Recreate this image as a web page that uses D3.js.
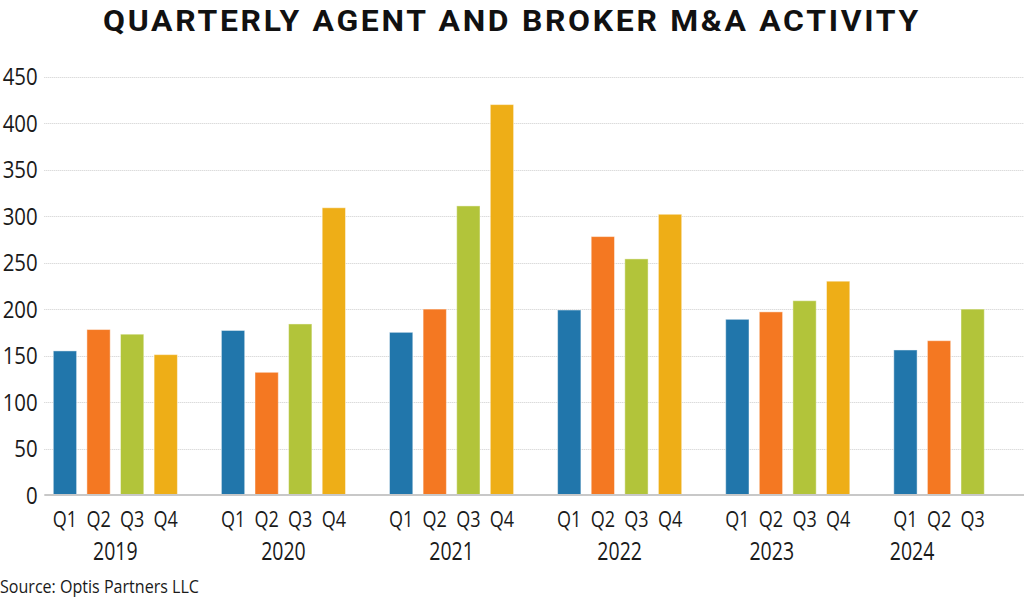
<!DOCTYPE html>
<html>
<head>
<meta charset="utf-8">
<script src="https://cdn.jsdelivr.net/npm/d3@7"></script>
<style>
  html, body { margin: 0; padding: 0; background: #fff; }
  svg { display: block; }
</style>
</head>
<body>
<div id="chart"></div>
<script>
'use strict';
// data
var years = ["2019", "2020", "2021", "2022", "2023", "2024"];
var quarters = ["Q1", "Q2", "Q3", "Q4"];
var deals = [
  [155, 178, 173, 151],
  [177, 132, 184, 309],
  [175, 200, 311, 420],
  [199, 278, 254, 302],
  [189, 197, 209, 230],
  [156, 166, 200]
];
var yTicks = [0, 50, 100, 150, 200, 250, 300, 350, 400, 450];
var colors = ["#2176ab", "#f47822", "#b2c43a", "#eeae17"];
var title = "QUARTERLY AGENT AND BROKER M&A ACTIVITY";
var source = "Source: Optis Partners LLC";

var width = 1024, height = 614;
// the original uses a condensed face, so Open Sans is squeezed sideways
var labelFont = "'Open Sans', 'Noto Sans', sans-serif";

var svg = d3.select("#chart").append("svg")
    .attr("width", width)
    .attr("height", height);

function narrowText(sel, x, y, sx) {
    return sel.attr("transform", "translate(" + x + "," + y + ") scale(" + sx + ",1)");
}

// title
svg.append("text")
    .attr("x", 103)
    .attr("y", 31)
    .attr("textLength", 818)
    .attr("lengthAdjust", "spacingAndGlyphs")
    .style("font-family", "Roboto, 'Open Sans', sans-serif")
    .style("font-weight", "bold")
    .style("font-size", "29.5px")
    .style("letter-spacing", "2.5px")
    .style("fill", "#111")
    .text(title);

// scales
var y = d3.scaleLinear().domain([0, 450]).range([495, 76.7]);
var x0 = d3.scaleBand().domain(years).range([44.3, 44.3 + 6 * 168.1]);
var x1 = d3.scaleBand().domain(quarters)
    .range([3.85, 138.25])
    .paddingInner(0.307)
    .paddingOuter(0.1535);

// gridlines
svg.append("g").selectAll("line")
    .data(yTicks.filter(function(d) { return d > 0; }))
    .enter().append("line")
    .attr("x1", 44.3)
    .attr("x2", width)
    .attr("y1", function(d) { return Math.round(y(d)) + 0.5; })
    .attr("y2", function(d) { return Math.round(y(d)) + 0.5; })
    .style("stroke", "#cdcdcd")
    .style("stroke-width", 1)
    .style("stroke-dasharray", "1,1");

// y labels
svg.append("g").selectAll("text")
    .data(yTicks)
    .enter().append("text")
    .each(function(d) { narrowText(d3.select(this), 37.7, y(d), 0.85); })
    .attr("dy", "0.36em")
    .attr("text-anchor", "end")
    .style("font-family", labelFont)
    .style("font-size", "24px")
    .style("fill", "#1a1a1a")
    .text(function(d) { return d; });

// bars
var groups = svg.append("g").selectAll("g")
    .data(years)
    .enter().append("g")
    .attr("transform", function(d) { return "translate(" + x0(d) + ",0)"; });

groups.selectAll("rect")
    .data(function(d, i) { return deals[i].map(function(v, q) { return {q: quarters[q], v: v, i: q}; }); })
    .enter().append("rect")
    .attr("x", function(d) { return x1(d.q); })
    .attr("width", x1.bandwidth())
    .attr("y", function(d) { return y(d.v); })
    .attr("height", function(d) { return y(0) - y(d.v); })
    .style("fill", function(d) { return colors[d.i]; })
    .style("stroke", "rgba(255,255,255,0.45)")
    .style("stroke-width", 1);

// quarter labels
groups.selectAll("text.q")
    .data(function(d, i) { return quarters.slice(0, deals[i].length); })
    .enter().append("text")
    .attr("class", "q")
    .each(function(d) { narrowText(d3.select(this), x1(d) + x1.bandwidth() / 2, 527, 0.82); })
    .attr("text-anchor", "middle")
    .style("font-family", labelFont)
    .style("font-size", "22px")
    .style("fill", "#1a1a1a")
    .text(function(d) { return d; });

// year labels, two of them sit a bit left in the original
var yearNudge = {"2023": -16, "2024": -27};
groups.append("text")
    .each(function(d, i) {
        var n = deals[i].length;
        var mid = (x1(quarters[0]) + x1(quarters[n - 1]) + x1.bandwidth()) / 2;
        narrowText(d3.select(this), mid + (yearNudge[d] || 0), 560, 0.78);
    })
    .attr("text-anchor", "middle")
    .style("font-family", labelFont)
    .style("font-size", "25px")
    .style("fill", "#1a1a1a")
    .text(function(d) { return d; });

// baseline
svg.append("line")
    .attr("x1", 44.3)
    .attr("x2", width)
    .attr("y1", y(0))
    .attr("y2", y(0))
    .style("stroke", "#c8c8c8")
    .style("stroke-width", 2);

// source
svg.append("text")
    .attr("x", 0)
    .attr("y", 593)
    .attr("textLength", 199)
    .attr("lengthAdjust", "spacingAndGlyphs")
    .style("font-family", labelFont)
    .style("font-size", "18px")
    .style("fill", "#1a1a1a")
    .text(source);
</script>
</body>
</html>
